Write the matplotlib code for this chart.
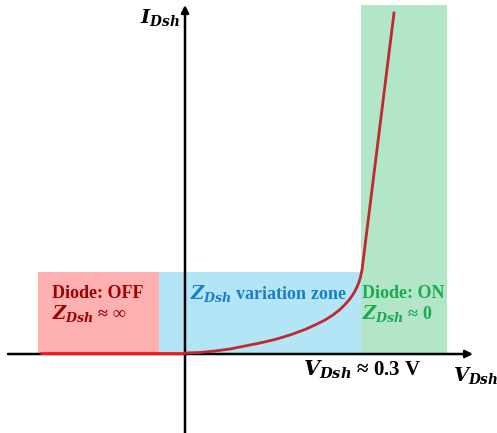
import matplotlib
matplotlib.use("Agg")
import matplotlib.pyplot as plt
from matplotlib.patches import Rectangle

plt.rcParams['font.family'] = ['Liberation Serif', 'DejaVu Serif']
plt.rcParams['mathtext.fontset'] = 'custom'
plt.rcParams['mathtext.rm'] = 'Liberation Serif:bold'
plt.rcParams['mathtext.it'] = 'DejaVu Serif:italic:bold'
plt.rcParams['mathtext.bf'] = 'Liberation Serif:bold'

# schematic I-V curve of the shunt diode (arbitrary units, origin at axis crossing)
v_off = [-145, 0]
i_off = [1, 1]
v_curve = [0, 15, 30, 45, 60, 75, 90, 105, 120, 130, 140, 148, 155, 160, 164, 167, 170, 172, 174, 175.5, 177, 209]
i_curve = [1, 1.5, 3, 5, 8, 11, 14.5, 19, 24.5, 29, 34, 39, 44.5, 49.5, 54, 58, 63, 67, 72, 77, 84, 341]

# zones: x start, x end, top
zone_x0 = [-147, -26, 176]
zone_x1 = [-26, 176, 262]
zone_top = [82, 82, 349]
zone_colors = ['#ffb0b0', '#b4e5f7', '#b3e6c8']

fig = plt.figure(figsize=(4.97, 4.33), dpi=100)
ax = fig.add_axes([0, 0, 1, 1])
ax.set_xlim(-185, 312)
ax.set_ylim(-79, 354)
ax.axis('off')

for x0, x1, top, c in zip(zone_x0, zone_x1, zone_top, zone_colors):
    ax.add_patch(Rectangle((x0, 0), x1 - x0, top, facecolor=c, edgecolor='none', zorder=1))

# axes arrows
arrow = dict(arrowstyle='-|>', color='black', lw=1.8, mutation_scale=11, shrinkA=0, shrinkB=0)
ax.annotate('', xy=(288, 0), xytext=(-177, 0), arrowprops=arrow, zorder=3)
ax.annotate('', xy=(0, 349), xytext=(0, -80), arrowprops=arrow, zorder=3)

ax.plot(v_off, i_off, color='#ff1a1a', lw=2, zorder=4, solid_capstyle='butt')
ax.plot(v_curve, i_curve, color='#c0282d', lw=2, zorder=4)

ax.text(-133, 61, 'Diode: OFF', color='#a00000', fontsize=13, fontweight='bold', va='center')
ax.text(-133, 41, r'$Z_{Dsh}$ ≈ ∞', color='#a00000', fontsize=13, fontweight='bold', va='center')
ax.text(5, 61, r'$Z_{Dsh}$ variation zone', color='#1a7fc8', fontsize=13, fontweight='bold', va='center')
ax.text(177, 61, 'Diode: ON', color='#1aaa50', fontsize=13, fontweight='bold', va='center')
ax.text(177, 41, r'$Z_{Dsh}$ ≈ 0', color='#1aaa50', fontsize=13, fontweight='bold', va='center')
ax.text(-45, 336, r'$I_{Dsh}$', color='black', fontsize=14, va='center')
ax.text(118, -16, r'$V_{Dsh}$ ≈ 0.3 V', color='black', fontsize=15, fontweight='bold', va='center')
ax.text(268, -21, r'$V_{Dsh}$', color='black', fontsize=14, va='center')

fig.savefig('out.png', dpi=100)
